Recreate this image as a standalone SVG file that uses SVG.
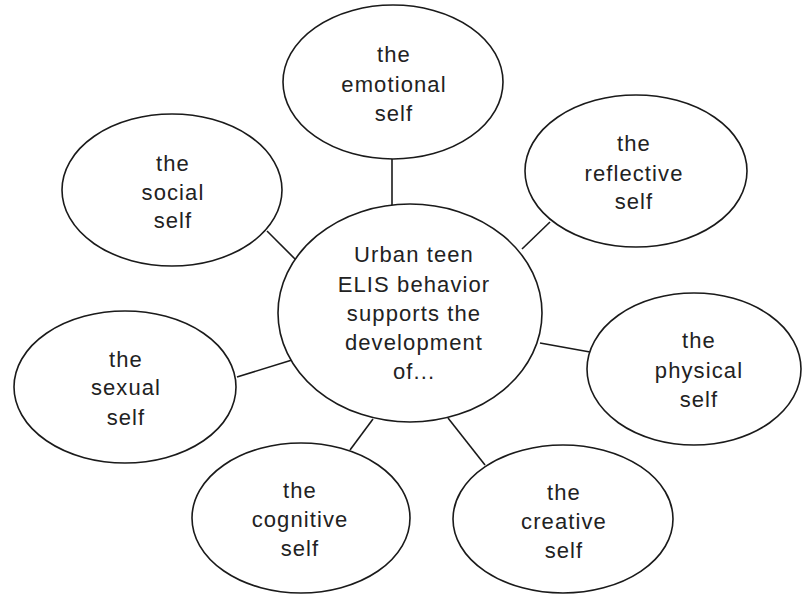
<svg xmlns="http://www.w3.org/2000/svg" width="802" height="596" viewBox="0 0 802 596">
  <style>
    .bubble { fill: #ffffff; stroke: #1a1a1a; stroke-width: 1.6; }
    .link { stroke: #1a1a1a; stroke-width: 1.6; fill: none; }
    .label { font-family: "Liberation Sans", Arial, sans-serif; font-size: 22px; fill: #222222; text-anchor: middle; letter-spacing: 1.1px; }
  </style>
  <rect width="802" height="596" fill="#ffffff"/>

  <!-- spokes from the hub to each bubble -->
  <g id="connectors">
    <line class="link" x1="392" y1="158" x2="392" y2="205"/>
    <line class="link" x1="267" y1="231" x2="297" y2="261"/>
    <line class="link" x1="550" y1="222" x2="522" y2="249"/>
    <line class="link" x1="540" y1="343" x2="590" y2="352"/>
    <line class="link" x1="237" y1="377" x2="292" y2="360"/>
    <line class="link" x1="350" y1="450" x2="373" y2="419"/>
    <line class="link" x1="485" y1="465" x2="448" y2="418"/>
  </g>

  <g id="hub">
    <ellipse class="bubble" cx="410" cy="313" rx="132" ry="109"/>
    <text class="label" x="414" y="262">Urban teen</text>
    <text class="label" x="414" y="292">ELIS behavior</text>
    <text class="label" x="414" y="321">supports the</text>
    <text class="label" x="414" y="350">development</text>
    <text class="label" x="414" y="379">of...</text>
  </g>

  <g id="emotional">
    <ellipse class="bubble" cx="393" cy="82" rx="110" ry="77"/>
    <text class="label" x="394" y="62">the</text>
    <text class="label" x="394" y="92">emotional</text>
    <text class="label" x="394" y="121">self</text>
  </g>

  <g id="social">
    <ellipse class="bubble" cx="172" cy="190" rx="110" ry="76"/>
    <text class="label" x="173" y="171">the</text>
    <text class="label" x="173" y="200">social</text>
    <text class="label" x="173" y="228">self</text>
  </g>

  <g id="reflective">
    <ellipse class="bubble" cx="636" cy="171" rx="111" ry="76"/>
    <text class="label" x="634" y="151">the</text>
    <text class="label" x="634" y="181">reflective</text>
    <text class="label" x="634" y="209">self</text>
  </g>

  <g id="sexual">
    <ellipse class="bubble" cx="125" cy="387" rx="111" ry="76"/>
    <text class="label" x="126" y="367">the</text>
    <text class="label" x="126" y="395">sexual</text>
    <text class="label" x="126" y="425">self</text>
  </g>

  <g id="physical">
    <ellipse class="bubble" cx="694" cy="369" rx="107" ry="76"/>
    <text class="label" x="699" y="348">the</text>
    <text class="label" x="699" y="378">physical</text>
    <text class="label" x="699" y="407">self</text>
  </g>

  <g id="cognitive">
    <ellipse class="bubble" cx="301" cy="518" rx="109" ry="75"/>
    <text class="label" x="300" y="498">the</text>
    <text class="label" x="300" y="527">cognitive</text>
    <text class="label" x="300" y="556">self</text>
  </g>

  <g id="creative">
    <ellipse class="bubble" cx="563" cy="519" rx="110" ry="74"/>
    <text class="label" x="564" y="500">the</text>
    <text class="label" x="564" y="529">creative</text>
    <text class="label" x="564" y="558">self</text>
  </g>
</svg>
